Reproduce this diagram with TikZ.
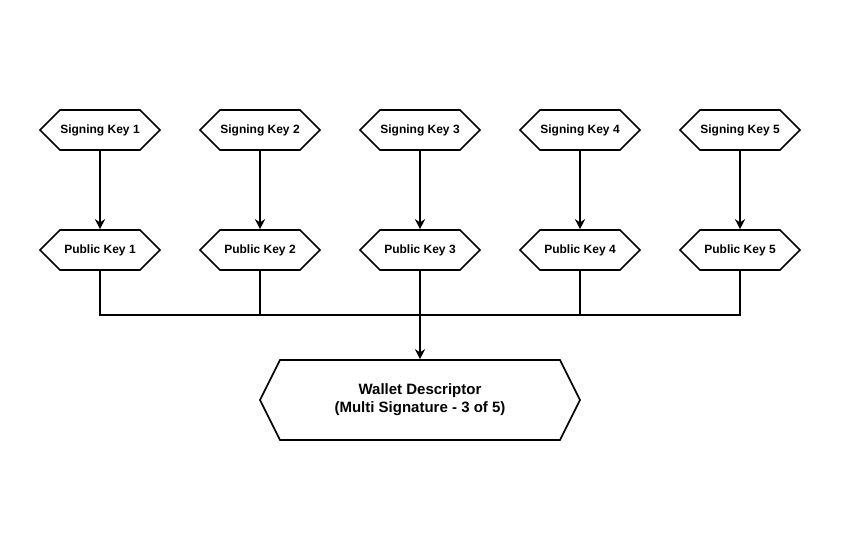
\documentclass[tikz,border=0pt]{standalone}
\usepackage{fontspec}
\setmainfont{Liberation Sans}
\usetikzlibrary{shapes.symbols,arrows.meta}

\begin{document}
\begin{tikzpicture}[x=1pt,y=-1pt,line width=1.6pt,
    key/.style={signal, signal to=east and west, signal pointer angle=90, draw, minimum width=120pt, minimum height=40pt, inner sep=0pt, font=\bfseries\fontsize{12}{14}\selectfont},
    desc/.style={signal, signal to=east and west, signal pointer angle=126.87, draw, minimum width=320pt, minimum height=80pt, inner sep=0pt, align=center, font=\bfseries\fontsize{15}{18}\selectfont},
    link/.style={-{Stealth[length=10pt,width=10pt]}}]
    \useasboundingbox (0,0) rectangle (850,550);
    \foreach \i in {1,...,5} {
      \node[key] (s\i) at (100+160*\i-160,130) {Signing Key \i};
      \node[key] (p\i) at (100+160*\i-160,250) {Public Key \i};
      \draw[link] (s\i) -- (p\i);
    }
    \node[desc] (wallet) at (420,400) {Wallet Descriptor\\(Multi Signature - 3 of 5)};
    \coordinate (bus) at (420,315);
    \draw (p1.south) |- (p5.south |- bus) -- (p5.south);
    \foreach \i in {2,3,4} \draw (p\i.south) -- (p\i.south |- bus);
    \draw[link] (bus) -- (wallet.north);
  \end{tikzpicture}
\end{document}
